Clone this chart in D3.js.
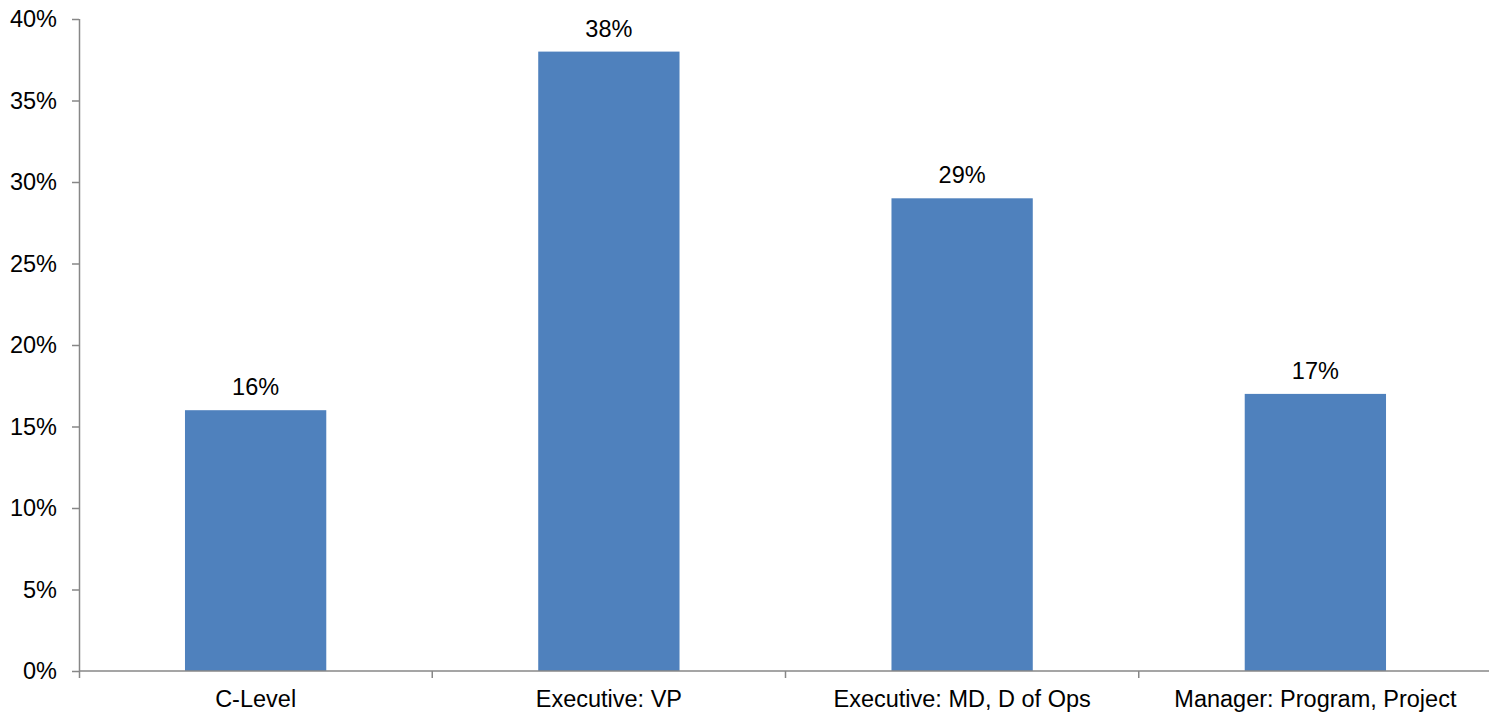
<!DOCTYPE html>
<html>
<head>
<meta charset="utf-8">
<script src="https://cdn.jsdelivr.net/npm/d3@7"></script>
<style>
  html, body { margin: 0; padding: 0; background: #fff; }
  svg { display: block; }
  text { font-family: "Liberation Sans", Arial, sans-serif; fill: #000; }
</style>
</head>
<body>
<svg id="chart" width="1489" height="713"></svg>
<script>
// Share of respondents by job level
const categories = ["C-Level", "Executive: VP", "Executive: MD, D of Ops", "Manager: Program, Project"];
const shares = [16, 38, 29, 17];
const yTicks = [0, 5, 10, 15, 20, 25, 30, 35, 40];

const svg = d3.select("#chart");
const axisColor = "#878787";
const barColor = "#4F81BD";
const fontSize = 23.5;

const plotLeft = 79, plotRight = 1492, plotTop = 19, plotBottom = 671;

const x = d3.scaleBand()
  .domain(categories)
  .range([plotLeft, plotRight])
  .paddingInner(0.6)
  .paddingOuter(0.3);

const y = d3.scaleLinear().domain([0, 40]).range([plotBottom, plotTop]);

// Bars
svg.append("g").selectAll("rect")
  .data(categories)
  .join("rect")
  .attr("x", d => x(d))
  .attr("y", (d, i) => y(shares[i]))
  .attr("width", x.bandwidth())
  .attr("height", (d, i) => y(0) - y(shares[i]))
  .attr("fill", barColor);

// Value labels
svg.append("g").selectAll("text")
  .data(categories)
  .join("text")
  .attr("x", d => x(d) + x.bandwidth() / 2)
  .attr("y", (d, i) => y(shares[i]) - 15)
  .attr("text-anchor", "middle")
  .attr("font-size", fontSize)
  .text((d, i) => shares[i] + "%");

// Y axis
const yAxis = svg.append("g")
  .attr("transform", `translate(${plotLeft},0)`)
  .call(d3.axisLeft(y).tickValues(yTicks).tickFormat(d => d + "%").tickSize(7).tickPadding(15).tickSizeOuter(0));
yAxis.select(".domain").attr("stroke", axisColor).attr("stroke-width", 1.5)
  .attr("d", `M0.5,${plotTop}V${plotBottom + 7}`);
yAxis.selectAll(".tick line").attr("stroke", axisColor).attr("stroke-width", 1.5);
yAxis.selectAll(".tick text").attr("font-size", fontSize).attr("fill", "#000")
  .style("font-family", "'Liberation Sans', Arial, sans-serif");

// X axis with ticks at category boundaries
const xAxis = svg.append("g").attr("transform", `translate(0,${plotBottom})`);
xAxis.append("line")
  .attr("x1", plotLeft).attr("x2", plotRight)
  .attr("stroke", axisColor).attr("stroke-width", 1.5);
const step = x.step();
const boundaries = categories.map((d, i) => plotLeft + step * (i + 1));
xAxis.selectAll("line.tick")
  .data(boundaries)
  .join("line")
  .attr("class", "tick")
  .attr("x1", d => d).attr("x2", d => d)
  .attr("y1", 0).attr("y2", 7)
  .attr("stroke", axisColor).attr("stroke-width", 1.5);
xAxis.selectAll("text")
  .data(categories)
  .join("text")
  .attr("x", d => x(d) + x.bandwidth() / 2)
  .attr("y", 36)
  .attr("text-anchor", "middle")
  .attr("font-size", fontSize)
  .text(d => d);
</script>
</body>
</html>
